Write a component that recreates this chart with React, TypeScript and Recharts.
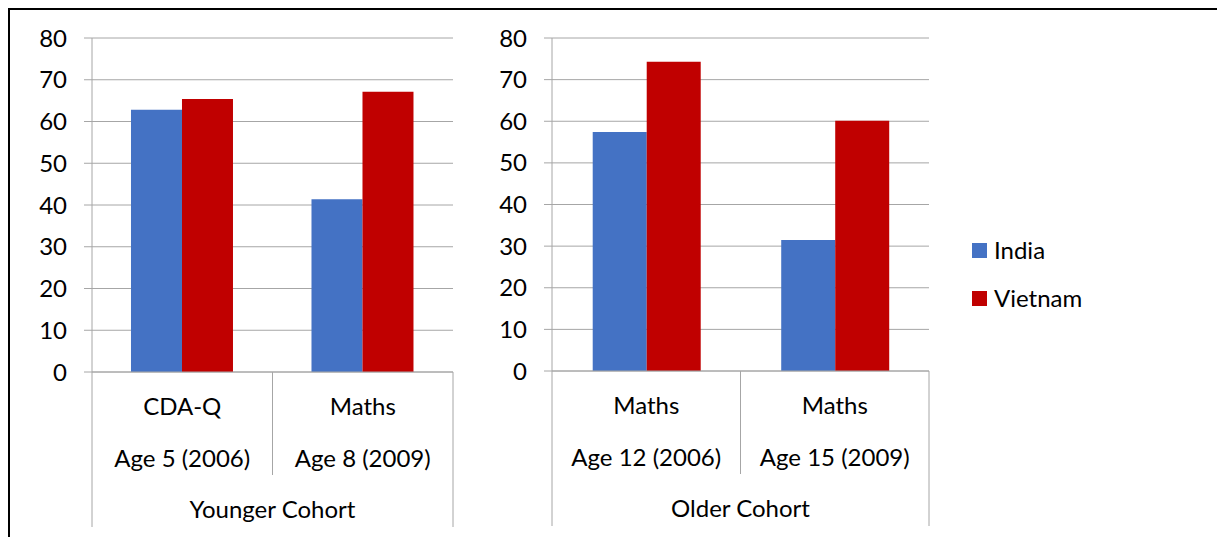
import { BarChart, Bar, XAxis, YAxis, CartesianGrid } from 'recharts';

const yTicks = [0, 10, 20, 30, 40, 50, 60, 70, 80];
const seriesNames = ['India', 'Vietnam'];
const seriesColors = ['#4472C4', '#C00000'];

const youngerSubjects = ['CDA-Q', 'Maths'];
const youngerAges = ['Age 5 (2006)', 'Age 8 (2009)'];
const youngerIndia = [62.8, 41.4];
const youngerVietnam = [65.4, 67.1];

const olderSubjects = ['Maths', 'Maths'];
const olderAges = ['Age 12 (2006)', 'Age 15 (2009)'];
const olderIndia = [57.4, 31.5];
const olderVietnam = [74.3, 60.1];

const GRID = '#A6A6A6';
const FONT = 'Lato, "Open Sans", sans-serif';
const FS = 24;

function buildRows(ages: string[], india: number[], vietnam: number[]) {
  return ages.map((age, i) => ({ age, India: india[i], Vietnam: vietnam[i] }));
}

// two-row category label plus the cohort row underneath, with the divider lines
function CategoryTick(props: any) {
  const { x, y, index, subjects, ages, cohort, band, count } = props;
  const half = band / 2;
  const left = x - half;
  const right = x + half;
  const txt = { fontFamily: FONT, fontSize: FS, fill: '#000', textAnchor: 'middle' as const, dominantBaseline: 'central' as const };
  return (
    <g>
      <line x1={left} y1={y} x2={left} y2={y + (index === 0 ? 155 : 103)} stroke={GRID} />
      {index === count - 1 && <line x1={right} y1={y} x2={right} y2={y + 155} stroke={GRID} />}
      <text x={x} y={y + 33} {...txt}>{subjects[index]}</text>
      <text x={x} y={y + 85} {...txt}>{ages[index]}</text>
      {index === 0 && (
        <text x={left + (band * count) / 2} y={y + 136} {...txt}>{cohort}</text>
      )}
    </g>
  );
}

function Panel({ left, width, axisW, margin, subjects, ages, india, vietnam, cohort }: any) {
  const data = buildRows(ages, india, vietnam);
  const plotW = width - margin.left - margin.right - axisW;
  const band = plotW / data.length;
  return (
    <div style={{ position: 'absolute', left, top: 0 }}>
      <BarChart width={width} height={529} data={data} margin={margin} barGap={0} barCategoryGap="21.6%">
        <CartesianGrid stroke={GRID} vertical={false} />
        <XAxis
          dataKey="age"
          height={160}
          tickSize={0}
          tickMargin={0}
          axisLine={{ stroke: GRID }}
          tickLine={false}
          interval={0}
          tick={(p: any) => (
            <CategoryTick {...p} subjects={subjects} ages={ages} cohort={cohort} band={band} count={data.length} />
          )}
        />
        <YAxis
          width={axisW}
          domain={[0, 80]}
          ticks={yTicks}
          interval={0}
          tickSize={8}
          tickMargin={17}
          axisLine={{ stroke: GRID }}
          tickLine={{ stroke: GRID }}
          tick={{ fill: '#000', fontSize: FS, fontFamily: FONT }}
        />
        {seriesNames.map((n, i) => (
          <Bar key={n} dataKey={n} fill={seriesColors[i]} isAnimationActive={false} />
        ))}
      </BarChart>
    </div>
  );
}

export default function App() {
  return (
    <div style={{ position: 'relative', width: 1217, height: 529, overflow: 'hidden', fontFamily: FONT }}>
      <div
        style={{
          position: 'absolute',
          left: 0,
          top: 0,
          width: 1217,
          height: 529,
          borderTop: '2px solid #000',
          borderLeft: '2px solid #000',
          boxSizing: 'border-box',
        }}
      />
      <Panel
        left={0}
        width={460}
        axisW={50}
        margin={{ top: 30, right: 15, bottom: 5, left: 34 }}
        subjects={youngerSubjects}
        ages={youngerAges}
        india={youngerIndia}
        vietnam={youngerVietnam}
        cohort="Younger Cohort"
      />
      <Panel
        left={480}
        width={450}
        axisW={60}
        margin={{ top: 30, right: 9, bottom: 6, left: 4 }}
        subjects={olderSubjects}
        ages={olderAges}
        india={olderIndia}
        vietnam={olderVietnam}
        cohort="Older Cohort"
      />
      {seriesNames.map((n, i) => (
        <div key={n} style={{ position: 'absolute', left: 964, top: 234 + i * 48, display: 'flex', alignItems: 'center', height: 16 }}>
          <div style={{ width: 15, height: 15, background: seriesColors[i] }} />
          <span style={{ marginLeft: 7, fontSize: FS, color: '#000', lineHeight: '16px' }}>{n}</span>
        </div>
      ))}
    </div>
  );
}
